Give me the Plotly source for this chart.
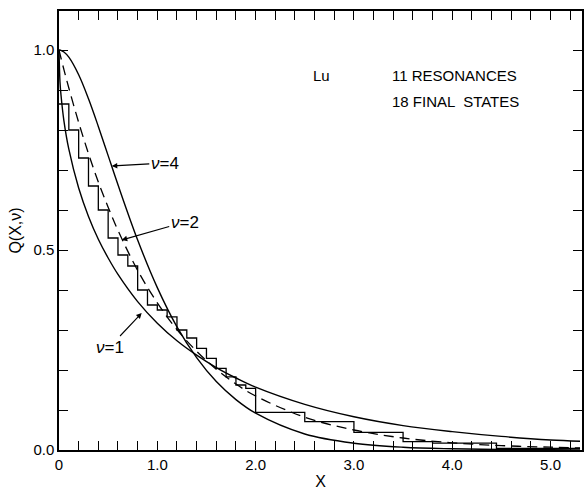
import plotly.graph_objects as go

# ---- data ----
x_curve = [0, 0.01, 0.02, 0.05, 0.1, 0.2, 0.3, 0.4, 0.5, 0.6, 0.8, 1.0, 1.2, 1.4,
           1.6, 1.8, 2.0, 2.5, 3.0, 3.5, 4.0, 4.5, 5.0, 5.3]
q_nu1 = [1.0, 0.920, 0.888, 0.823, 0.752, 0.655, 0.584, 0.527, 0.480, 0.439, 0.371,
         0.317, 0.273, 0.237, 0.206, 0.180, 0.157, 0.114, 0.083, 0.061, 0.046, 0.034,
         0.025, 0.022]
q_nu2 = [1.0, 0.990, 0.980, 0.951, 0.905, 0.819, 0.741, 0.670, 0.607, 0.549, 0.449,
         0.368, 0.301, 0.247, 0.202, 0.165, 0.135, 0.082, 0.050, 0.030, 0.018, 0.011,
         0.007, 0.005]
q_nu4 = [1.0, 1.0, 0.999, 0.995, 0.982, 0.938, 0.878, 0.809, 0.736, 0.663, 0.525,
         0.406, 0.308, 0.231, 0.171, 0.126, 0.092, 0.040, 0.017, 0.007, 0.003, 0.001,
         0.0005, 0.0003]

# experimental staircase (bin left edges and values)
x_step = [0, 0.1, 0.2, 0.3, 0.4, 0.5, 0.6, 0.7, 0.8, 0.9, 1.0, 1.1, 1.2, 1.3, 1.4,
          1.5, 1.6, 1.7, 1.8, 1.9, 2.0, 2.5, 3.0, 3.5, 3.8, 4.45, 5.3]
q_step = [0.865, 0.80, 0.73, 0.66, 0.60, 0.53, 0.4875, 0.46, 0.40, 0.3625, 0.35,
          0.333, 0.30, 0.28, 0.254, 0.229, 0.204, 0.183, 0.1625, 0.154, 0.094,
          0.071, 0.044, 0.021, 0.017, 0.004, 0.004]

x_tickvals = [0, 1, 2, 3, 4, 5]
x_ticktext = ["0", "1.0", "2.0", "3.0", "4.0", "5.0"]
y_tickvals = [0, 0.5, 1.0]
y_ticktext = ["0.0", "0.5", "1.0"]

FONT = "Liberation Sans"
line_style = dict(color="black", width=1.4)

fig = go.Figure()
fig.add_trace(go.Scatter(x=x_curve, y=q_nu1, mode="lines", line=dict(**line_style, shape="spline"), name="ν=1"))
fig.add_trace(go.Scatter(x=x_curve, y=q_nu2, mode="lines",
                         line=dict(color="black", width=1.3, dash="10px,6px", shape="spline"), name="ν=2"))
fig.add_trace(go.Scatter(x=x_curve, y=q_nu4, mode="lines", line=dict(**line_style, shape="spline"), name="ν=4"))
fig.add_trace(go.Scatter(x=x_step, y=q_step, mode="lines", line=dict(color="black", width=1.3, shape="hv"),
                         name="data"))

axis_common = dict(showline=True, linecolor="black", linewidth=1.5, mirror="allticks",
                   ticks="inside", ticklen=9, tickwidth=1.2, tickcolor="black",
                   showgrid=False, zeroline=False,
                   tickfont=dict(family=FONT, size=15, color="black"))

fig.update_xaxes(range=[0, 5.32], tickmode="array", tickvals=x_tickvals, ticktext=x_ticktext,
                 minor=dict(dtick=0.2, tick0=0, ticks="inside", ticklen=9, tickwidth=1.2, tickcolor="black"),
                 title=dict(text="X", font=dict(family=FONT, size=16, color="black"), standoff=4),
                 **axis_common)
fig.update_yaxes(range=[0, 1.0975], tickmode="array", tickvals=y_tickvals, ticktext=y_ticktext,
                 minor=dict(dtick=0.1, tick0=0, ticks="inside", ticklen=9, tickwidth=1.2, tickcolor="black"),
                 title=dict(text="Q(X,ν)", font=dict(family=FONT, size=16, color="black"), standoff=8),
                 **axis_common)

txt = dict(family=FONT, size=15, color="black")
nutxt = dict(family=FONT, size=17, color="black")
ann = [
    dict(x=2.67, y=0.9375, text="Lu", showarrow=False, font=txt, xanchor="center", yanchor="middle"),
    dict(x=3.37, y=0.9375, text="11 RESONANCES", showarrow=False, font=txt, xanchor="left", yanchor="middle"),
    dict(x=3.37, y=0.8725, text="18 FINAL  STATES", showarrow=False, font=txt, xanchor="left", yanchor="middle"),
    dict(x=0.537, y=0.71, text="<i>ν</i>=4", showarrow=True, ax=53, ay=-3, arrowhead=2, arrowsize=1,
         arrowwidth=1.1, arrowcolor="black", font=nutxt),
    dict(x=0.638, y=0.525, text="<i>ν</i>=2", showarrow=True, ax=63, ay=-18, arrowhead=2, arrowsize=1,
         arrowwidth=1.1, arrowcolor="black", font=nutxt),
    dict(x=0.841, y=0.3425, text="<i>ν</i>=1", showarrow=True, ax=-32, ay=34, arrowhead=2, arrowsize=1,
         arrowwidth=1.1, arrowcolor="black", font=nutxt),
]
fig.update_layout(width=587, height=491, margin=dict(l=59, r=3, t=11, b=41),
                  paper_bgcolor="white", plot_bgcolor="white", showlegend=False,
                  annotations=ann, font=dict(family=FONT, color="black"))

fig.write_html("out.html")
